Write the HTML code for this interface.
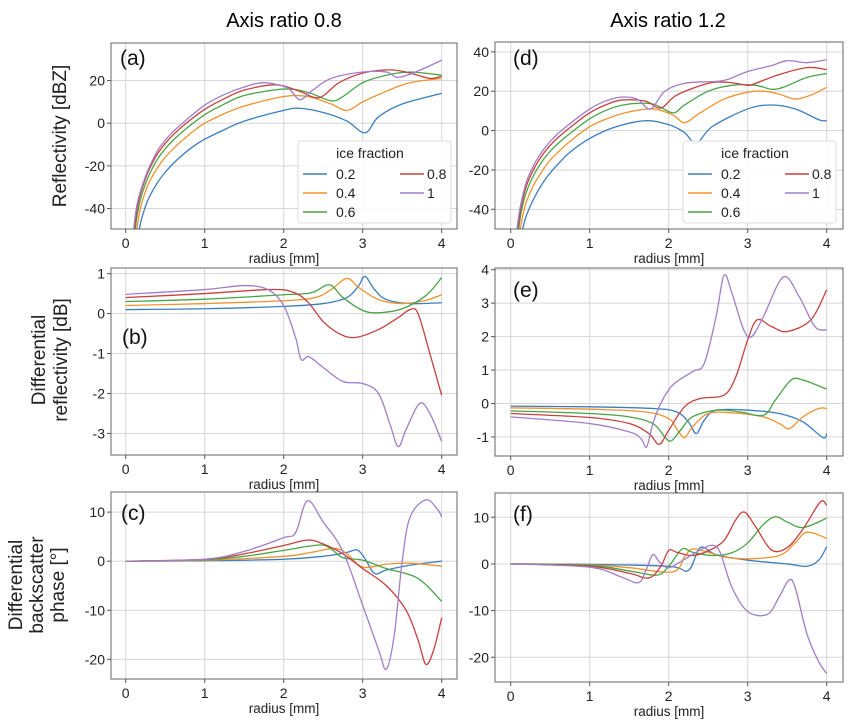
<!DOCTYPE html>
<html><head><meta charset="utf-8"><style>
html,body{margin:0;padding:0;background:#fff;}
svg{display:block;font-family:"Liberation Sans","DejaVu Sans",sans-serif;}
</style></head><body>
<svg id="fig" width="854" height="725" viewBox="0 0 854 725">
<text x="284" y="27" font-size="20" text-anchor="middle">Axis ratio 0.8</text>
<text x="668" y="27" font-size="20" text-anchor="middle">Axis ratio 1.2</text>
<text transform="translate(66,136) rotate(-90)" font-size="19" text-anchor="middle" fill="#222">Reflectivity [dBZ]</text>
<text transform="translate(45,360) rotate(-90)" font-size="19" text-anchor="middle" fill="#222"><tspan x="0" dy="0">Differential</tspan><tspan x="0" dy="22">reflectivity [dB]</tspan></text>
<text transform="translate(22,585) rotate(-90)" font-size="19" text-anchor="middle" fill="#222"><tspan x="0" dy="0">Differential</tspan><tspan x="0" dy="21">backscatter</tspan><tspan x="0" dy="21">phase [°]</tspan></text>
</svg>
<script>
const colors = ["#3b7ebf","#f0922e","#47a447","#c8413e","#a17ec8"];
const fractions = ["0.2","0.4","0.6","0.8","1"];
const xTicks = [0,1,2,3,4];

// (a) reflectivity, axis ratio 0.8
const a02 = [[0.17,-50],[0.2,-45],[0.25,-39],[0.3,-34.5],[0.4,-28],[0.5,-23],[0.6,-19],[0.7,-15.5],[0.85,-11],[1,-7.5],[1.25,-3],[1.5,1],[2,6],[2.2,7],[2.5,5],[2.8,1],[3.03,-4.5],[3.2,3],[3.5,9],[4,14]];
const a04 = [[0.14,-50],[0.17,-43],[0.2,-38],[0.25,-32],[0.3,-27.5],[0.4,-21],[0.5,-16],[0.6,-12],[0.75,-7],[0.9,-2.5],[1,0],[1.25,4.5],[1.5,8],[2,12.5],[2.3,12.5],[2.6,9],[2.8,6],[3,10],[3.3,15],[3.6,19],[4,21]];
const a06 = [[0.12,-50],[0.15,-42],[0.2,-34],[0.25,-28.5],[0.3,-24],[0.4,-17],[0.5,-12],[0.6,-8],[0.75,-3],[1,4],[1.25,9],[1.5,13],[2,16],[2.3,14.5],[2.6,10.5],[2.75,12.5],[3,19],[3.3,22.5],[3.6,24],[4,22.5]];
const a08 = [[0.11,-50],[0.14,-41],[0.18,-34],[0.25,-26],[0.3,-21.5],[0.4,-14.5],[0.5,-9.5],[0.6,-5.5],[0.75,-0.5],[1,6.5],[1.25,11.5],[1.5,15.5],[1.9,18],[2.2,15],[2.45,12],[2.7,19],[3,23.5],[3.35,25],[3.6,23.5],[3.85,21],[4,22]];
const a10 = [[0.1,-50],[0.13,-41],[0.17,-34],[0.25,-25],[0.3,-20.5],[0.4,-13],[0.5,-8],[0.6,-4],[0.75,1],[1,8.5],[1.25,13.5],[1.5,17],[1.75,19],[2.05,16.5],[2.2,11],[2.35,15],[2.6,21],[3,24],[3.3,24],[3.45,21.5],[3.7,24.5],[4,29.5]];
// (d) reflectivity, axis ratio 1.2
const d02 = [[0.15,-50],[0.2,-43],[0.3,-34],[0.4,-27],[0.5,-21.5],[0.6,-17],[0.75,-11],[1,-4],[1.3,1.5],[1.7,5],[2,3],[2.2,-1],[2.35,-6.5],[2.55,2],[3,11],[3.3,13],[3.6,11],[3.9,5.5],[4,5]];
const d04 = [[0.12,-50],[0.16,-42],[0.2,-36],[0.3,-27],[0.4,-20.5],[0.5,-15],[0.6,-11],[0.75,-5.5],[1,2],[1.25,6.5],[1.5,9.5],[1.8,11],[2.05,8],[2.2,4],[2.4,9],[2.7,16],[3,19.5],[3.2,20],[3.4,18.5],[3.6,16],[3.8,18],[4,22]];
const d06 = [[0.1,-50],[0.14,-40],[0.2,-31],[0.3,-22],[0.4,-15.5],[0.5,-10.5],[0.6,-6.5],[0.75,-1.5],[1,6],[1.25,11],[1.5,13.5],[1.8,13.5],[2.05,9],[2.2,13],[2.5,20],[2.8,23],[3.1,23],[3.3,21],[3.45,22],[3.75,27],[4,29]];
const d08 = [[0.09,-50],[0.13,-39],[0.2,-28],[0.3,-19],[0.4,-12.5],[0.5,-7.5],[0.6,-3.5],[0.75,1.5],[1,9],[1.2,13],[1.4,15.5],[1.7,15],[1.9,11.5],[2.1,18],[2.5,24],[2.75,24.5],[3,23],[3.1,24],[3.4,28.5],[3.75,32],[4,31]];
const d10 = [[0.08,-50],[0.12,-39],[0.2,-26],[0.3,-17],[0.4,-10.5],[0.5,-5.5],[0.6,-1.5],[0.75,3.5],[1,11],[1.2,15],[1.4,17],[1.6,16],[1.77,11],[1.95,20],[2.2,24],[2.6,25],[2.75,26],[3,30],[3.3,33],[3.5,35.5],[3.75,34.5],[4,36]];
// (b) differential reflectivity, 0.8
const b02 = [[0,0.1],[1,0.12],[2,0.18],[2.5,0.25],[2.8,0.4],[2.95,0.7],[3.03,0.93],[3.15,0.6],[3.3,0.35],[3.6,0.25],[4,0.27]];
const b04 = [[0,0.2],[1,0.25],[2,0.32],[2.4,0.4],[2.6,0.6],[2.8,0.88],[2.95,0.65],[3.2,0.35],[3.5,0.25],[3.8,0.33],[4,0.47]];
const b06 = [[0,0.3],[1,0.36],[2,0.47],[2.35,0.52],[2.58,0.72],[2.75,0.4],[3,0.08],[3.2,0.02],[3.5,0.12],[3.8,0.45],[4,0.9]];
const b08 = [[0,0.4],[1,0.5],[1.8,0.6],[2.1,0.55],[2.3,0.3],[2.5,-0.2],[2.7,-0.5],[2.9,-0.6],[3.2,-0.4],[3.45,-0.1],[3.6,0.1],[3.7,0.0],[3.85,-1.0],[4,-2.05]];
const b10 = [[0,0.48],[1,0.6],[1.5,0.7],[1.8,0.6],[2.0,0.2],[2.15,-0.6],[2.22,-1.15],[2.32,-1.08],[2.5,-1.35],[2.75,-1.7],[3.0,-1.75],[3.2,-2.0],[3.35,-2.8],[3.45,-3.33],[3.55,-2.9],[3.72,-2.25],[3.85,-2.5],[4,-3.2]];
// (e) differential reflectivity, 1.2
const e02 = [[0,-0.08],[1,-0.1],[1.8,-0.15],[2.1,-0.25],[2.25,-0.55],[2.35,-0.9],[2.45,-0.5],[2.6,-0.2],[3,-0.2],[3.4,-0.3],[3.7,-0.55],[3.95,-1.02],[4,-0.9]];
const e04 = [[0,-0.13],[1,-0.17],[1.7,-0.25],[2.0,-0.45],[2.1,-0.75],[2.2,-1.02],[2.3,-0.7],[2.5,-0.3],[2.8,-0.28],[3.2,-0.4],[3.4,-0.6],[3.53,-0.75],[3.7,-0.4],[3.9,-0.15],[4,-0.15]];
const e06 = [[0,-0.22],[1,-0.3],[1.5,-0.4],[1.8,-0.6],[1.95,-1.0],[2.03,-1.12],[2.15,-0.8],[2.3,-0.4],[2.6,-0.2],[2.9,-0.25],[3.2,-0.35],[3.35,0.1],[3.55,0.7],[3.7,0.7],[4,0.43]];
const e08 = [[0,-0.3],[1,-0.42],[1.5,-0.6],[1.75,-0.9],[1.88,-1.22],[2.0,-0.8],[2.2,-0.1],[2.4,0.15],[2.7,0.25],[2.85,0.8],[3.0,1.9],[3.12,2.5],[3.3,2.3],[3.5,2.15],[3.8,2.5],[4,3.4]];
const e10 = [[0,-0.4],[1,-0.6],[1.5,-0.85],[1.65,-1.05],[1.72,-1.3],[1.8,-0.6],[1.9,0.0],[2.05,0.55],[2.3,0.95],[2.45,1.2],[2.6,2.6],[2.7,3.83],[2.8,3.3],[2.95,2.2],[3.05,2.0],[3.2,2.6],[3.45,3.78],[3.65,3.2],[3.85,2.3],[4,2.2]];
// (c) differential backscatter phase, 0.8
const c02 = [[0,0],[1,0.1],[2,0.4],[2.5,1.0],[2.8,1.8],[2.93,2.3],[3.03,0.5],[3.15,-2.5],[3.3,-1.8],[3.6,-0.8],[4,0]];
const c04 = [[0,0],[1,0.2],[2,1.0],[2.35,1.8],[2.65,2.6],[2.8,1.5],[3.0,-1.2],[3.3,-0.6],[3.6,-0.4],[4,-1.0]];
const c06 = [[0,0],[1,0.3],[1.5,1.0],[2,2.2],[2.45,3.3],[2.6,2.5],[2.75,0.7],[3.0,0.2],[3.3,-1.5],[3.7,-3.5],[4,-8.2]];
const c08 = [[0,0],[1,0.4],[1.5,1.5],[2,3.2],[2.3,4.3],[2.5,3.5],[2.75,1.5],[3.0,-1.5],[3.3,-5.0],[3.55,-10],[3.7,-16],[3.8,-21],[3.9,-18],[4,-11.5]];
const c10 = [[0,0],[1,0.4],[1.5,2.0],[2,4.8],[2.15,5.8],[2.3,12.3],[2.5,8],[2.75,2],[3.0,-9],[3.2,-18],[3.3,-22],[3.4,-15],[3.5,0],[3.6,9],[3.8,12.5],[3.95,10.5],[4,9]];
// (f) differential backscatter phase, 1.2
const f02 = [[0,0],[1,-0.1],[2.0,-0.5],[2.25,-1.4],[2.4,3.5],[2.6,2.0],[3.0,0.8],[3.5,0],[3.75,-0.5],[3.9,0.8],[4,3.7]];
const f04 = [[0,0],[1,-0.2],[1.5,-0.8],[2.05,-1.7],[2.2,1.5],[2.3,3.2],[2.5,2.5],[2.7,1.5],[3.0,1.1],[3.4,1.8],[3.6,4.5],[3.75,6.8],[4,5.5]];
const f06 = [[0,0],[1,-0.3],[1.5,-1.5],[1.85,-2.4],[2.0,-0.5],[2.17,3.2],[2.3,2.5],[2.55,1.8],[2.8,2.4],[3.0,4.5],[3.2,8.5],[3.35,10.1],[3.5,9.0],[3.7,7.8],[4,9.8]];
const f08 = [[0,0],[1,-0.5],[1.5,-2.0],[1.75,-3.0],[1.9,-0.5],[2.0,2.9],[2.1,2.5],[2.3,1.8],[2.5,2.8],[2.7,5.0],[2.85,9.5],[2.96,11.1],[3.1,8.0],[3.3,3.0],[3.5,3.5],[3.7,7.5],[3.92,13.3],[4,12.5]];
const f10 = [[0,0],[1,-0.7],[1.4,-2.8],[1.62,-4.0],[1.72,-1.0],[1.8,2.0],[1.88,0.5],[2.0,-0.8],[2.2,1.0],[2.4,3.0],[2.55,4.0],[2.65,2.5],[2.8,-5.0],[3.0,-10.2],[3.25,-10.8],[3.4,-7],[3.52,-3.5],[3.6,-5],[3.75,-15],[3.9,-21],[4,-23.5]];

const yTicksA = [-40,-20,0,20];
const yTicksD = [-40,-20,0,20,40];
const yTicksB = [-3,-2,-1,0,1];
const yTicksE = [-1,0,1,2,3,4];
const yTicksC = [-20,-10,0,10];
const yTicksF = [-20,-10,0,10];

const panels = [
 {id:"a",box:[111,43,457,229],x0:125.7,x4:441.7,ymin:-49.6,ymax:37.6,ticks:yTicksA,series:[a02,a04,a06,a08,a10],legend:[298,141],letter:[120,65]},
 {id:"d",box:[495,42,843,229],x0:510.7,x4:826.7,ymin:-50,ymax:45,ticks:yTicksD,series:[d02,d04,d06,d08,d10],legend:[683,141],letter:[513,65]},
 {id:"b",box:[111,268,457,455],x0:125.7,x4:441.7,ymin:-3.54,ymax:1.14,ticks:yTicksB,series:[b02,b04,b06,b08,b10],letter:[122,344]},
 {id:"e",box:[495,268,843,456],x0:510.7,x4:826.7,ymin:-1.57,ymax:4.05,ticks:yTicksE,series:[e02,e04,e06,e08,e10],letter:[513,297]},
 {id:"c",box:[111,492,457,679],x0:125.7,x4:441.7,ymin:-24.0,ymax:14.1,ticks:yTicksC,series:[c02,c04,c06,c08,c10],letter:[121,520]},
 {id:"f",box:[495,493,843,682],x0:510.7,x4:826.7,ymin:-25.3,ymax:15.2,ticks:yTicksF,series:[f02,f04,f06,f08,f10],letter:[513,521]}
];
const NS="http://www.w3.org/2000/svg";
const svg=document.getElementById('fig');
function mk(tag,attrs,parent){const e=document.createElementNS(NS,tag);for(const k in attrs)e.setAttribute(k,attrs[k]);(parent||svg).appendChild(e);return e;}
function smoothPath(pts){
 let d="M"+pts[0][0].toFixed(2)+","+pts[0][1].toFixed(2);
 for(let i=0;i<pts.length-1;i++){
  const p0=pts[Math.max(0,i-1)],p1=pts[i],p2=pts[i+1],p3=pts[Math.min(pts.length-1,i+2)];
  const c1=[p1[0]+(p2[0]-p0[0])/6,p1[1]+(p2[1]-p0[1])/6];
  const c2=[p2[0]-(p3[0]-p1[0])/6,p2[1]-(p3[1]-p1[1])/6];
  d+=" C"+c1[0].toFixed(2)+","+c1[1].toFixed(2)+" "+c2[0].toFixed(2)+","+c2[1].toFixed(2)+" "+p2[0].toFixed(2)+","+p2[1].toFixed(2);
 }
 return d;
}
panels.forEach(p=>{
 const [L,T,R,B]=p.box;
 const xs=r=>p.x0+(p.x4-p.x0)*r/4;
 const ys=v=>B-(v-p.ymin)/(p.ymax-p.ymin)*(B-T);
 const g=mk('g',{});
 
 
 const clipId='clip'+p.id;
 const cp=mk('clipPath',{id:clipId},g);mk('rect',{x:L,y:T,width:R-L,height:B-T},cp);
 xTicks.forEach(t=>{
  const x=xs(t);
  const gl=mk('line',{x1:x,x2:x,y1:T,y2:B,stroke:'#d6d6d6','stroke-width':1},g);
  
  
  mk('line',{x1:x,x2:x,y1:B,y2:B+4,stroke:'#555','stroke-width':1},g);
  const tl=mk('text',{x:x,y:B+19,'font-size':14,'text-anchor':'middle',fill:'#222'},g);
  tl.textContent=t;
  
  
 });
 p.ticks.forEach(t=>{
  const y=ys(t);
  const gl=mk('line',{x1:L,x2:R,y1:y,y2:y,stroke:'#d6d6d6','stroke-width':1},g);
  
  
  mk('line',{x1:L-4,x2:L,y1:y,y2:y,stroke:'#555','stroke-width':1},g);
  const tl=mk('text',{x:L-6,y:y+5,'font-size':14,'text-anchor':'end',fill:'#222'},g);
  tl.textContent=t;
  
  
 });
 const xl=mk('text',{x:(L+R)/2,y:B+34,'font-size':13.5,'text-anchor':'middle',fill:'#222'},g);
 xl.textContent='radius [mm]';
 
 
 const lg=mk('g',{'clip-path':'url(#'+clipId+')'},g);
 p.series.forEach((s,i)=>{
  const pts=s.map(q=>[xs(q[0]),ys(q[1])]);
  const path=mk('path',{d:smoothPath(pts),fill:'none',stroke:colors[i],'stroke-width':1.3},lg);
  
  
 });
 const fr=mk('rect',{x:L,y:T,width:R-L,height:B-T,fill:'none',stroke:'#666','stroke-width':1},g);
 
 
 const lt=mk('text',{x:p.letter[0],y:p.letter[1],'font-size':21,fill:'#111'},g);
 lt.textContent='('+p.id+')';
 
 
 if(p.legend){
  const [lx,ly]=p.legend;
  const lgd=mk('g',{},g);
  
  
  mk('rect',{x:lx,y:ly,width:153,height:82,rx:3,fill:'#fff','fill-opacity':0.85,stroke:'#ddd'},lgd);
  const tt=mk('text',{x:lx+72,y:ly+17,'font-size':14,'text-anchor':'middle',fill:'#222'},lgd);
  tt.textContent='ice fraction';
  const pos=[[0,0],[0,1],[0,2],[1,0],[1,1]];
  fractions.forEach((f,i)=>{
   const col=pos[i][0];
   const cx=lx+5+col*97, cy=ly+33+pos[i][1]*19;
   const e=mk('g',{},lgd);
   
   
   mk('line',{x1:cx,x2:cx+24,y1:cy,y2:cy,stroke:colors[i],'stroke-width':1.5},e);
   const tx=mk('text',{x:cx+(col?27:33),y:cy+5,'font-size':14,fill:'#222'},e);
   tx.textContent=f;
  });
 }
});
</script>
</body></html>
